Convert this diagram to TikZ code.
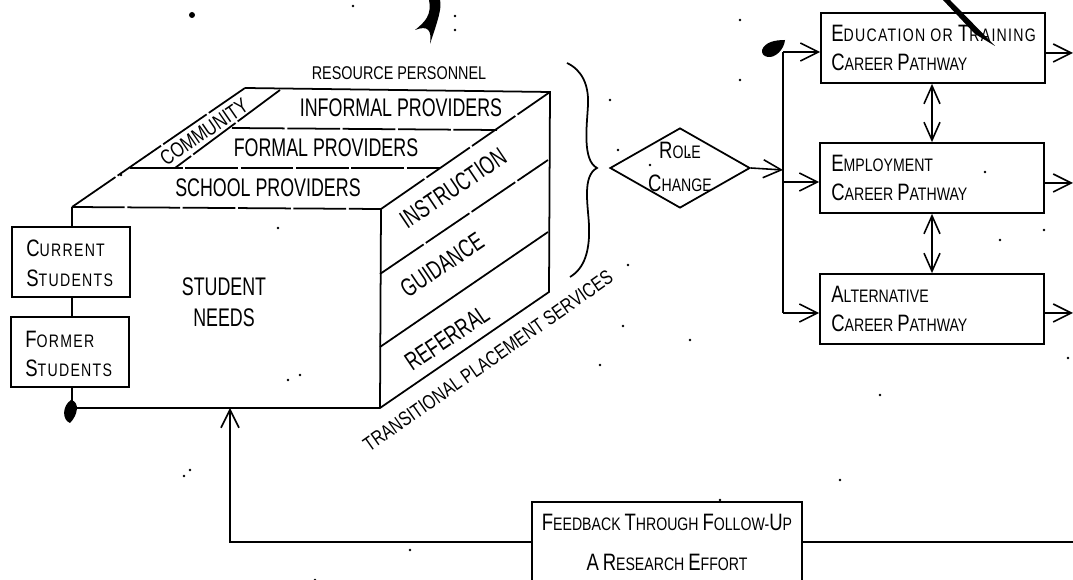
\documentclass[tikz,border=0pt]{standalone}
\usepackage{fontspec}
\setmainfont[FakeStretch=0.78]{Liberation Sans}
\newfontfamily\tallfont[FakeStretch=0.7]{Liberation Sans}
\usetikzlibrary{shapes.geometric,arrows.meta}
\newcommand{\tallcap}[1]{{\fontsize{13.5}{13.5}\selectfont #1}}
\tikzset{
  inkline/.style={line width=1pt, black},
  brokenline/.style={line width=1pt, dash pattern=on 30pt off 1.5pt},
  openarrow/.style={line width=0.9pt, -{Straight Barb[length=3.6mm,width=3.6mm]}},
  bothways/.style={line width=0.9pt, {Straight Barb[length=3.6mm,width=3.2mm]}-{Straight Barb[length=3.6mm,width=3.2mm]}},
  pathbox/.style={draw, line width=1pt, minimum width=44.8mm, minimum height=14mm, inner sep=0pt},
  studentbox/.style={draw, line width=1pt, minimum width=23.6mm, minimum height=14mm, inner sep=0pt},
  lettering/.style={font=\tallfont\fontsize{14.5}{17.6}\selectfont, inner sep=0pt},
  boxtext/.style={font=\fontsize{10.3}{17}\selectfont, align=left, inner sep=0pt, anchor=west},
  studenttext/.style={boxtext, font=\fontsize{10.3}{17}\selectfont\addfontfeature{LetterSpace=7}},
  blot/.style={fill=black, draw=none}
}
\begin{document}
\begin{tikzpicture}[x=0.2mm,y=-0.2mm]
\useasboundingbox (0,0) rectangle (1073,580);
% Corners of the block
\coordinate (ftl) at (72,207);
\coordinate (ftr) at (381,209);
\coordinate (fbr) at (380,408);
\coordinate (fbl) at (72,408);
\coordinate (btl) at (245,88);
\coordinate (btr) at (550,92);
\coordinate (bbr) at (549,292);
% Block outline
\draw[brokenline] (ftl) -- (btl);
\draw[inkline] (btl) -- (btr) -- (bbr) -- (fbr) -- (fbl);
\draw[inkline] (ftr) -- (fbr);
\draw[brokenline] (ftl) -- (ftr);
\draw[brokenline] (ftr) -- (btr);
% Provider layers on top
\draw[brokenline] (280,90) -- (175,168);
\draw[brokenline] (232,128) -- (497,130);
\draw[brokenline] (130,168) -- (440,168);
% Service layers on the side
\draw[brokenline] (380,274) -- (548,160);
\draw[inkline] (380,347) -- (548,232);
% Block labels
\node[lettering, font=\fontsize{10.5}{12}\selectfont] (resource) at (399,73) {RESOURCE PERSONNEL};
\node[lettering] (informal) at (401,108) {INFORMAL PROVIDERS};
\node[lettering] (formal) at (326,148) {FORMAL PROVIDERS};
\node[lettering] (school) at (268,188) {SCHOOL PROVIDERS};
\node[lettering, rotate=34.5, font=\fontsize{12}{14}\selectfont] (community) at (204,132) {COMMUNITY};
\node[lettering, align=center] (needs) at (224,302) {STUDENT\\NEEDS};
\node[lettering, rotate=34] (instruction) at (453,188) {INSTRUCTION};
\node[lettering, rotate=34] (guidance) at (442,265) {GUIDANCE};
\node[lettering, rotate=34] (referral) at (447,338) {REFERRAL};
\node[lettering, rotate=35, font=\fontsize{11.5}{13}\selectfont] (transitional) at (488,361) {TRANSITIONAL PLACEMENT SERVICES};
% Brace
\draw[inkline] (567,63) .. controls (582,70) and (589,85) .. (588,105)
  .. controls (587,125) and (582,160) .. (597,168)
  .. controls (582,176) and (588,205) .. (589,225)
  .. controls (590,250) and (585,268) .. (570,277);
% Student boxes
\node[studentbox] (current) at (71,262) {};
\node[studentbox] (former) at (70,352) {};
\node[studenttext] (currenttext) at (26,263) {\tallcap{C}URRENT\\\tallcap{S}TUDENTS};
\node[studenttext] (formertext) at (25,354) {\tallcap{F}ORMER\\\tallcap{S}TUDENTS};
\draw[inkline] (ftl) -- (ftl |- current.north);
\draw[inkline] (ftl |- current.south) -- (ftl |- former.north);
\draw[inkline] (ftl |- former.south) -- (fbl);
% Role change
\node[draw, diamond, line width=1pt, minimum width=28mm, minimum height=16mm, inner sep=0pt, aspect=1.75] (role) at (680,168) {};
\node[font=\fontsize{10.3}{18.5}\selectfont, align=center, inner sep=0pt] (roletext) at (680,167) {\tallcap{R}OLE\\\tallcap{C}HANGE};
% Pathway boxes
\node[pathbox] (education) at (933,48) {};
\node[pathbox] (employment) at (932,178) {};
\node[pathbox] (alternative) at (932,309) {};
\node[boxtext] (edutext) at (831,48) {{\addfontfeature{LetterSpace=7}\tallcap{E}DUCATION OR \tallcap{T}RAINING}\\\tallcap{C}AREER \tallcap{P}ATHWAY};
\node[boxtext] (emptext) at (831,178) {\tallcap{E}MPLOYMENT\\\tallcap{C}AREER \tallcap{P}ATHWAY};
\node[boxtext] (alttext) at (831,309) {\tallcap{A}LTERNATIVE\\\tallcap{C}AREER \tallcap{P}ATHWAY};
% Arrows to and from the pathways
\coordinate (split) at (783,170);
\coordinate (eduend) at (1073,53);
\coordinate (empend) at (1073,183);
\coordinate (altend) at (1073,313);
\draw[openarrow] (role.east) -- (split);
\draw[inkline] (783,52) -- (783,313);
\draw[openarrow] (783,52) -- (education.west |- 0,52);
\draw[openarrow] (783,182) -- (employment.west |- 0,182);
\draw[openarrow] (783,313) -- (alternative.west |- 0,313);
\draw[openarrow] (education.east |- eduend) -- (eduend);
\draw[openarrow] (employment.east |- empend) -- (empend);
\draw[openarrow] (alternative.east |- altend) -- (altend);
\draw[bothways] (education.south -| 932,0) -- (employment.north -| 932,0);
\draw[bothways] (employment.south -| 932,0) -- (alternative.north -| 932,0);
% Feedback
\node[draw, line width=1pt, minimum width=54mm, minimum height=16mm, inner sep=0pt, align=center, font=\fontsize{10.3}{22.7}\selectfont] (feedback) at (667,542) {\tallcap{F}EEDBACK \tallcap{T}HROUGH \tallcap{F}OLLOW-\tallcap{U}P\\\tallcap{A} \tallcap{R}ESEARCH \tallcap{E}FFORT};
\coordinate (feedend) at (1073,542);
\coordinate (feedup) at (230,408);
\draw[inkline] (feedback.east) -- (feedend);
\draw[openarrow] (feedback.west) -| (feedup);
% Ink marks from the scan
\fill[blot] (71,400) .. controls (80,402) and (78,415) .. (70,423) .. controls (62,420) and (62,406) .. (71,400);
\fill[blot] (762,50) .. controls (765,42) and (775,40) .. (785,40) .. controls (784,50) and (775,58) .. (768,57) .. controls (763,56) and (762,54) .. (762,50);
\fill[blot] (429,0) -- (440,0) .. controls (442,8) and (438,20) .. (430,44) .. controls (432,30) and (428,25) .. (415,30) .. controls (425,22) and (432,15) .. (429,0);
\fill[blot] (943,0) -- (950,0) -- (995,46) -- (975,34) -- cycle;
\fill[blot] (192,15) circle (3);
\foreach \px/\py in {353/6,455/16,455/30,121/175,288/380,278/228,184/476,618/150,650/165,740/20,740/80,689/155,628/265,623/326,985/172,1000/240,1044/230,1068/358,690/340,600/365,840/480,410/550,720/500,315/580,190/470,880/395,300/375,610/100} {
  \fill[blot] (\px,\py) circle (1.4);
}
\end{tikzpicture}
\end{document}
